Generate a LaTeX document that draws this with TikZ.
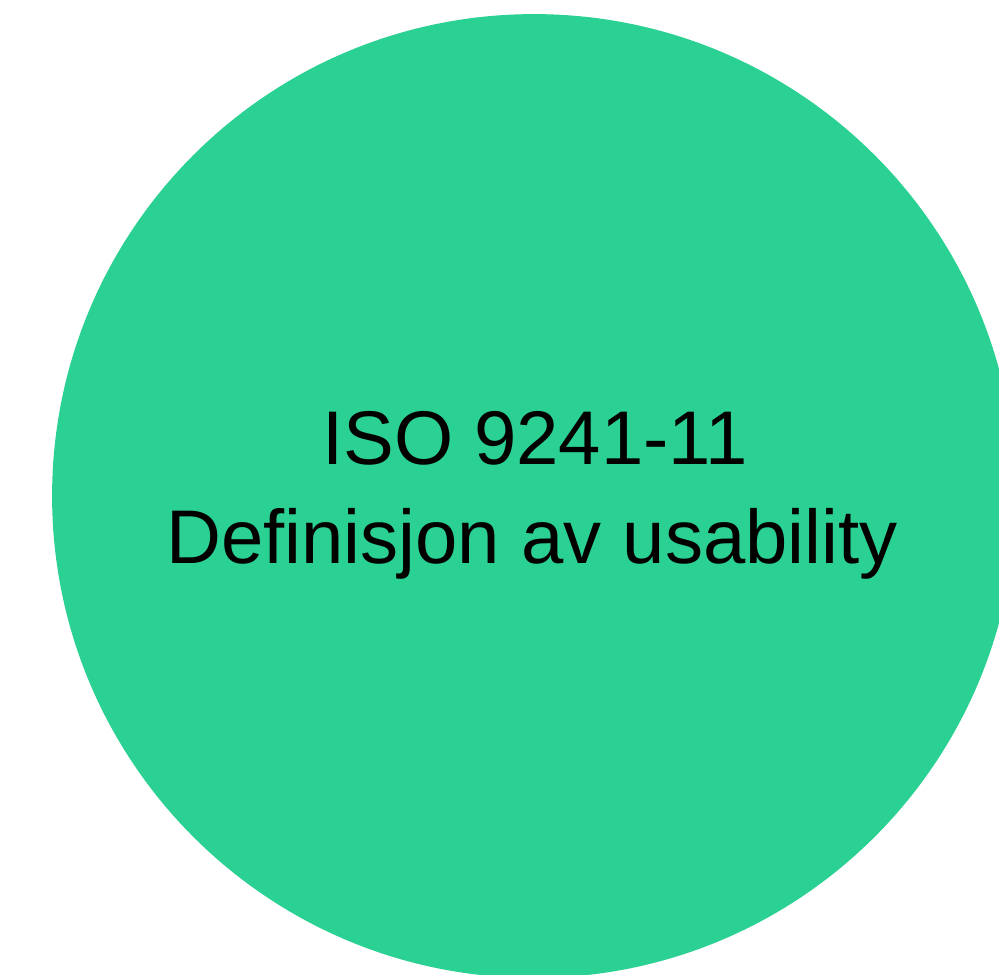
\documentclass[tikz,border=0pt]{standalone}
\usepackage{fontspec}
\setmainfont{Liberation Sans}
\usepackage{xcolor}
\usetikzlibrary{shapes.geometric}

\definecolor{isogreen}{HTML}{2AD192}

\begin{document}
\begin{tikzpicture}[x=0.02cm, y=-0.02cm,
    disc/.style={circle, fill=isogreen, draw=none, inner sep=0pt, minimum size=19.28cm},
    caption/.style={anchor=base, inner sep=0pt, text=black, font=\fontsize{43.3}{56}\selectfont}]
    \useasboundingbox (0,0) rectangle (999,974);

    \node[disc] (disk) at (534, 496) {};

    \node[caption] (title) at (535, 464) {ISO 9241-11};
    \node[caption] (subtitle) at (532, 563) {Definisjon av usability};
\end{tikzpicture}
\end{document}
